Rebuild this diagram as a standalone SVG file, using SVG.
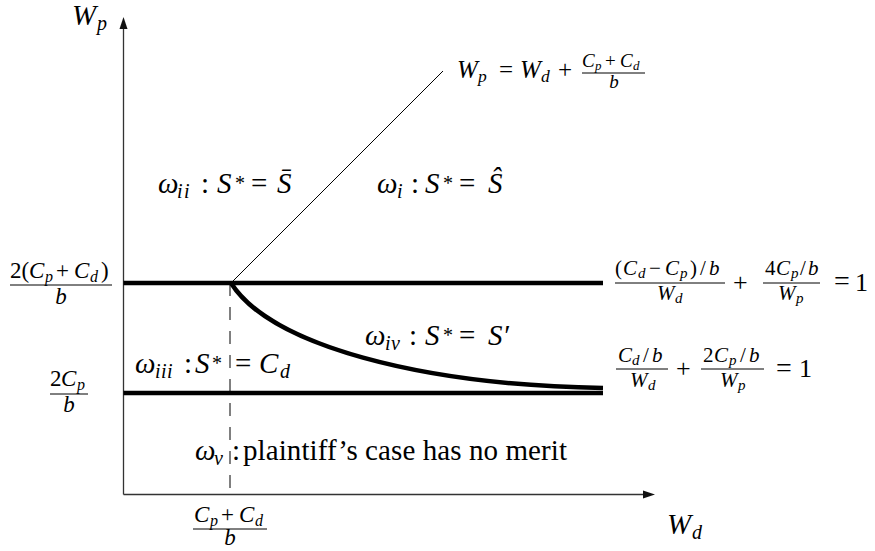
<svg xmlns="http://www.w3.org/2000/svg" width="875" height="551" viewBox="0 0 875 551">
<defs>
<style>
text{font-family:"Liberation Serif","Times New Roman",serif;fill:#000}
.m{font-style:italic}
.u{font-style:normal}
.ax{stroke:#333;stroke-width:1.3;fill:none}
.thick{stroke:#000;stroke-width:4.5;fill:none}
.thin{stroke:#000;stroke-width:1;fill:none}
.bar{stroke:#000;stroke-width:1}
</style>
</defs>
<rect width="875" height="551" fill="#fff"/>
<g id="axes">
<line class="ax" x1="123.5" y1="494.5" x2="123.5" y2="26"/>
<line class="ax" x1="123.5" y1="494.5" x2="646" y2="494.5"/>
<polygon points="123.5,17 119.5,29 127.5,29" fill="#111"/>
<polygon points="655,494.5 643,490.5 643,498.5" fill="#111"/>
<text id="label-wp" class="m" font-size="29" y="25"><tspan x="72">W</tspan><tspan x="97" dy="5" font-size="20">p</tspan></text>
<text id="label-wd" class="m" font-size="29" y="534"><tspan x="667">W</tspan><tspan x="692" dy="5" font-size="20">d</tspan></text>
</g>
<g id="connectors">
<line id="line-upper" class="thick" x1="123.5" y1="283" x2="603" y2="283"/>
<line id="line-lower" class="thick" x1="123.5" y1="393" x2="603" y2="393"/>
<line id="diagonal" class="thin" x1="231" y1="283" x2="443" y2="71"/>
<line id="dashed" class="thin" x1="230" y1="283" x2="230" y2="494" stroke-dasharray="13 11"/>
<path id="curve" class="thick" d="M231,283 C270,345 420,385 603,388"/>
</g>
<g id="tick-labels">
<g id="tick-upper">
<text class="m" font-size="23" y="278"><tspan x="10" class="u">2</tspan><tspan x="21.5" class="u">(</tspan><tspan x="29">C</tspan><tspan x="45" dy="4" font-size="16">p</tspan><tspan x="56" dy="-4" class="u">+</tspan><tspan x="74">C</tspan><tspan x="90" dy="4" font-size="16">d</tspan><tspan x="101" dy="-4" class="u">)</tspan></text>
<line class="bar" x1="10" y1="285" x2="112" y2="285"/>
<text class="m" font-size="23" x="61" y="304" text-anchor="middle">b</text>
</g>
<g id="tick-lower">
<text class="m" font-size="23" y="386"><tspan x="50" class="u">2</tspan><tspan x="61">C</tspan><tspan x="77" dy="4" font-size="16">p</tspan></text>
<line class="bar" x1="50" y1="394" x2="88" y2="394"/>
<text class="m" font-size="23" x="69" y="412" text-anchor="middle">b</text>
</g>
<g id="tick-x">
<text class="m" font-size="23" y="522"><tspan x="194">C</tspan><tspan x="210" dy="4" font-size="16">p</tspan><tspan x="221" dy="-4" class="u">+</tspan><tspan x="239">C</tspan><tspan x="255" dy="4" font-size="16">d</tspan></text>
<line class="bar" x1="193" y1="529" x2="267" y2="529"/>
<text class="m" font-size="23" x="230" y="545" text-anchor="middle">b</text>
</g>
</g>
<g id="eq-diagonal">
<text class="m" font-size="25" y="78"><tspan x="457">W</tspan><tspan x="478" dy="4" font-size="17.5">p</tspan><tspan x="499" dy="-4" class="u">=</tspan><tspan x="520">W</tspan><tspan x="541" dy="4" font-size="17.5">d</tspan><tspan x="558" dy="-4" class="u">+</tspan></text>
<text class="m" font-size="19" y="67"><tspan x="582">C</tspan><tspan x="595" dy="3" font-size="13">p</tspan><tspan x="605" dy="-3" class="u">+</tspan><tspan x="620">C</tspan><tspan x="633" dy="3" font-size="13">d</tspan></text>
<line class="bar" x1="582" y1="73" x2="645" y2="73"/>
<text class="m" font-size="19" x="614" y="88" text-anchor="middle">b</text>
</g>
<g id="eq-upper">
<text class="m" font-size="21" y="275"><tspan x="615" class="u">(</tspan><tspan x="623">C</tspan><tspan x="638" dy="3" font-size="15">d</tspan><tspan x="649" dy="-3" class="u">−</tspan><tspan x="665">C</tspan><tspan x="680" dy="3" font-size="15">p</tspan><tspan x="690" dy="-3" class="u">)</tspan><tspan x="700" class="u">/</tspan><tspan x="709">b</tspan></text>
<line class="bar" x1="615" y1="283" x2="725" y2="283"/>
<text class="m" font-size="21" y="300"><tspan x="657">W</tspan><tspan x="675" dy="3" font-size="15">d</tspan></text>
<text class="m u" font-size="26" x="733" y="291">+</text>
<text class="m" font-size="21" y="275"><tspan x="765" class="u">4</tspan><tspan x="776">C</tspan><tspan x="791" dy="3" font-size="15">p</tspan><tspan x="800" dy="-3" class="u">/</tspan><tspan x="808">b</tspan></text>
<line class="bar" x1="763" y1="283" x2="820" y2="283"/>
<text class="m" font-size="21" y="300"><tspan x="778">W</tspan><tspan x="796" dy="3" font-size="15">p</tspan></text>
<text class="m u" font-size="28" x="834" y="290">=</text>
<text class="m u" font-size="26" x="855" y="291">1</text>
</g>
<g id="eq-lower">
<text class="m" font-size="21" y="362"><tspan x="618">C</tspan><tspan x="632" dy="3" font-size="15">d</tspan><tspan x="643" dy="-3" class="u">/</tspan><tspan x="652">b</tspan></text>
<line class="bar" x1="616" y1="369" x2="668" y2="369"/>
<text class="m" font-size="21" y="387"><tspan x="630">W</tspan><tspan x="648" dy="3" font-size="15">d</tspan></text>
<text class="m u" font-size="26" x="676" y="377">+</text>
<text class="m" font-size="21" y="362"><tspan x="703" class="u">2</tspan><tspan x="714">C</tspan><tspan x="729" dy="3" font-size="15">p</tspan><tspan x="740" dy="-3" class="u">/</tspan><tspan x="749">b</tspan></text>
<line class="bar" x1="701" y1="369" x2="764" y2="369"/>
<text class="m" font-size="21" y="387"><tspan x="720">W</tspan><tspan x="738" dy="3" font-size="15">p</tspan></text>
<text class="m u" font-size="28" x="776" y="377">=</text>
<text class="m u" font-size="26" x="799" y="377">1</text>
</g>
<g id="region-i">
<text class="m" font-size="29" y="193"><tspan x="377">ω</tspan><tspan x="397" dy="5" font-size="20">i</tspan><tspan x="411" dy="-5" class="u">:</tspan><tspan x="425">S</tspan><tspan x="443" dy="-3" font-size="20" class="u">*</tspan><tspan x="459" dy="3" class="u">=</tspan><tspan x="488">Ŝ</tspan></text>
</g>
<g id="region-ii">
<text class="m" font-size="29" y="193"><tspan x="158">ω</tspan><tspan x="177 184" dy="5" font-size="20">ii</tspan><tspan x="201" dy="-5" class="u">:</tspan><tspan x="217">S</tspan><tspan x="235" dy="-3" font-size="20" class="u">*</tspan><tspan x="251" dy="3" class="u">=</tspan><tspan x="277">S̄</tspan></text>
</g>
<g id="region-iii">
<text class="m" font-size="29" y="373"><tspan x="135">ω</tspan><tspan x="155 161 167" dy="5" font-size="20">iii</tspan><tspan x="184" dy="-5" class="u">:</tspan><tspan x="195">S</tspan><tspan x="212" dy="-3" font-size="20" class="u">*</tspan><tspan x="235" dy="3" class="u">=</tspan><tspan x="259">C</tspan><tspan x="280" dy="5" font-size="20">d</tspan></text>
</g>
<g id="region-iv">
<text class="m" font-size="29" y="345"><tspan x="365">ω</tspan><tspan x="385 391" dy="5" font-size="20">iv</tspan><tspan x="409" dy="-5" class="u">:</tspan><tspan x="425">S</tspan><tspan x="443" dy="-3" font-size="20" class="u">*</tspan><tspan x="459" dy="3" class="u">=</tspan><tspan x="488">S′</tspan></text>
</g>
<g id="region-v">
<text class="m" font-size="29" y="460"><tspan x="195">ω</tspan><tspan x="214" dy="5" font-size="20">v</tspan><tspan x="232" dy="-5" class="u">:</tspan><tspan x="243" class="u" textLength="324" lengthAdjust="spacing">plaintiff’s case has no merit</tspan></text>
</g>
</svg>
